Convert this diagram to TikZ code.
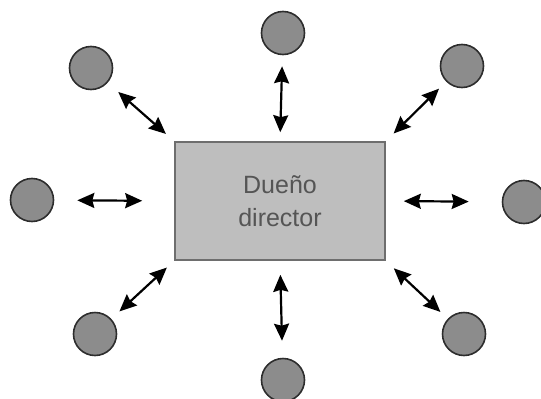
\documentclass[tikz,border=0pt]{standalone}
\usepackage{fontspec}
\setmainfont{Liberation Sans}
\usepackage{xcolor}
\usepackage{tikz}
\usetikzlibrary{arrows.meta, positioning}
\definecolor{boxgray}{RGB}{190, 190, 190}
\definecolor{boxedge}{RGB}{110, 110, 110}
\definecolor{dotgray}{RGB}{140, 140, 140}
\definecolor{dotedge}{RGB}{45, 45, 45}
\definecolor{txtgray}{RGB}{85, 85, 85}
\tikzset{
    boxnode/.style = {draw=boxedge, fill=boxgray, rectangle, line width=1.6pt, inner sep=0em,
      minimum width=210pt, minimum height=118pt, text=txtgray, align=center,
      font=\fontsize{25}{33}\selectfont},
    dotnode/.style = {draw=dotedge, fill=dotgray, circle, line width=1.6pt, inner sep=0em,
      minimum size=43pt},
    link/.style = {black, line width=2.2pt,
      {Stealth[length=17pt, width=15pt, inset=2pt]}-{Stealth[length=17pt, width=15pt, inset=2pt]}}
}

\begin{document}
\begin{tikzpicture}[x=1pt, y=-1pt]
\useasboundingbox (0,0) rectangle (541,399);
\node [name=box, boxnode] at (280,201) {Dueño\\director};
\node [name=tl, dotnode] at (91,68) {};
\node [name=t, dotnode] at (283,33) {};
\node [name=tr, dotnode] at (462,66) {};
\node [name=l, dotnode] at (32,200) {};
\node [name=r, dotnode] at (524,202) {};
\node [name=bl, dotnode] at (95,334) {};
\node [name=b, dotnode] at (283,380) {};
\node [name=br, dotnode] at (464,334) {};
\foreach \dot/\anc/\s/\e in {tl/north west/14/11, t/north/11/9, tr/north east/10/11,
    l/west/23/32, r/east/33/18, bl/south west/11/10, b/south/17/14, br/south east/10/11}
  \draw [link, shorten <=\s pt, shorten >=\e pt] (\dot) -- (box.\anc);
\end{tikzpicture}
\end{document}
